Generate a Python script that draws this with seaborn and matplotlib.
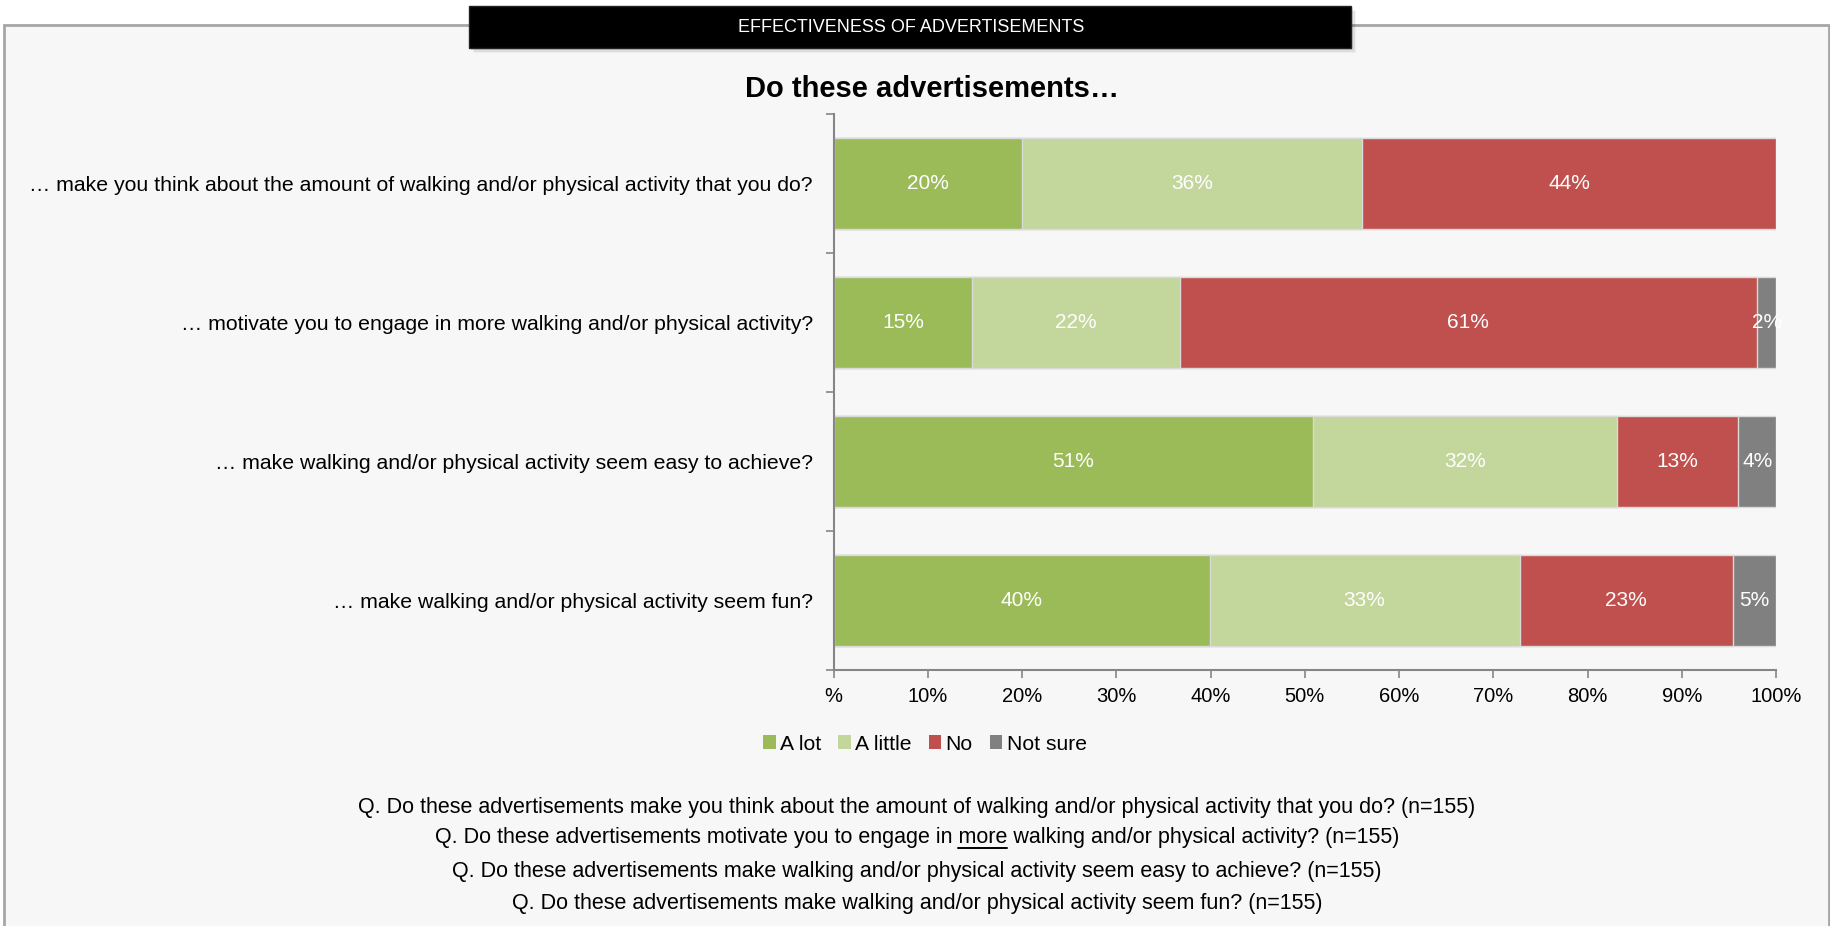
import matplotlib
matplotlib.use("Agg")
import matplotlib.pyplot as plt
from matplotlib import font_manager
from matplotlib.patches import Rectangle, Patch
import numpy as np
import pandas as pd
import seaborn as sns

# ---- data -------------------------------------------------------------
questions = [
    "\u2026 make you think about the amount of walking and/or physical activity that you do?",
    "\u2026 motivate you to engage in more walking and/or physical activity?",
    "\u2026 make walking and/or physical activity seem easy to achieve?",
    "\u2026 make walking and/or physical activity seem fun?",
]
series_names = ["A lot", "A little", "No", "Not sure"]
a_lot = [20.0, 14.7, 50.9, 39.9]
a_little = [36.1, 22.0, 32.2, 32.9]
no = [43.9, 61.3, 12.9, 22.6]
not_sure = [0.0, 2.0, 4.0, 4.6]
x_ticks = [0, 10, 20, 30, 40, 50, 60, 70, 80, 90, 100]
x_tick_labels = ["%", "10%", "20%", "30%", "40%", "50%", "60%", "70%", "80%", "90%", "100%"]
footnotes = [
    "Q. Do these advertisements make you think about the amount of walking and/or physical activity that you do? (n=155)",
    "Q. Do these advertisements motivate you to engage in more walking and/or physical activity? (n=155)",
    "Q. Do these advertisements make walking and/or physical activity seem easy to achieve? (n=155)",
    "Q. Do these advertisements make walking and/or physical activity seem fun? (n=155)",
]
colors = ["#9BBB59", "#C3D69B", "#C0504D", "#808080"]

# ---- fonts ------------------------------------------------------------
sns.set_theme(style="white")
installed = {f.name for f in font_manager.fontManager.ttflist}
REG = "Liberation Sans" if "Liberation Sans" in installed else "DejaVu Sans"
NARROW = "Liberation Sans Narrow" if "Liberation Sans Narrow" in installed else REG
plt.rcParams["font.family"] = [REG, "DejaVu Sans"]
plt.rcParams["text.color"] = "black"
plt.rcParams["xtick.color"] = "black"
plt.rcParams["ytick.color"] = "black"

W, H = 1831, 926
fig = plt.figure(figsize=(W / 100, H / 100), dpi=100)
fig.patch.set_facecolor("white")

# panel behind the chart
panel = Rectangle((4 / W, -0.05), (W - 6) / W, 1.05 - 25 / H,
                  transform=fig.transFigure, facecolor="#F7F7F7",
                  edgecolor="#A6A6A6", linewidth=2, zorder=-5)
fig.patches.append(panel)

# header banner with soft shadow
bx, by, bw, bh = 469 / W, 1 - 48 / H, 882 / W, 42 / H
for i, a in enumerate([0.10, 0.08, 0.06, 0.04]):
    off = (i + 1) * 1.2
    fig.patches.append(Rectangle((bx + off / W, by - off / H), bw, bh,
                                 transform=fig.transFigure, facecolor="black",
                                 edgecolor="none", alpha=a, zorder=-4))
fig.patches.append(Rectangle((bx, by), bw, bh, transform=fig.transFigure,
                             facecolor="black", edgecolor="#222222",
                             linewidth=1, zorder=-3))
fig.text(911 / W, 1 - 27 / H, "EFFECTIVENESS OF ADVERTISEMENTS", color="white",
         ha="center", va="center", fontsize=13, family=[NARROW, "DejaVu Sans"],
         zorder=3)

fig.text(932 / W, 1 - 89 / H, "Do these advertisements\u2026", ha="center",
         va="center", fontsize=21, fontweight="bold",
         family=[NARROW, "DejaVu Sans"], color="black")

# ---- stacked bars -----------------------------------------------------
ax = fig.add_axes([833.7 / W, 1 - 670 / H, (1776 - 833.7) / W, (670 - 114) / H])
ax.set_zorder(2)
ax.set_facecolor("#F7F7F7")

df = pd.DataFrame({"question": questions, "A lot": a_lot, "A little": a_little,
                   "No": no, "Not sure": not_sure})
cum = df[series_names].cumsum(axis=1)

for name, col in reversed(list(zip(series_names, colors))):
    sns.barplot(data=cum.assign(question=questions), x=name, y="question",
                orient="h", color=col, saturation=1, width=0.66,
                edgecolor="#DADADA", linewidth=1, ax=ax)

for i in range(len(questions)):
    start = 0.0
    for name in series_names:
        v = df.loc[i, name]
        if v > 0:
            ax.text(start + v / 2, i, f"{v:.0f}%", ha="center", va="center",
                    color="white", fontsize=15)
        start += v

ax.set_xlim(0, 100)
ax.set_ylim(3.5, -0.5)
ax.set_xlabel("")
ax.set_ylabel("")
ax.set_xticks(x_ticks)
ax.set_xticklabels(x_tick_labels, family=[NARROW, "DejaVu Sans"], fontsize=14.5)
ax.set_yticks(range(len(questions)))
ax.set_yticklabels(questions, fontsize=15.3)
ax.set_yticks([-0.5, 0.5, 1.5, 2.5, 3.5], minor=True)
ax.tick_params(axis="y", which="major", length=0, pad=15)
ax.tick_params(axis="y", which="minor", length=6, width=1.2, color="#868686",
               direction="out", left=True)
ax.tick_params(axis="x", which="major", length=6, width=1.2, color="#868686",
               direction="out", bottom=True, pad=6)
for s in ["top", "right"]:
    ax.spines[s].set_visible(False)
for s in ["left", "bottom"]:
    ax.spines[s].set_color("#868686")
    ax.spines[s].set_linewidth(1.5)

# ---- legend -----------------------------------------------------------
handles = [Patch(facecolor=c, edgecolor="none") for c in colors]
fig.legend(handles, series_names, loc="center", bbox_to_anchor=(925 / W, 1 - 744 / H),
           ncol=4, frameon=False, fontsize=15.2, handlelength=0.6, handleheight=0.6,
           handletextpad=0.2, columnspacing=0.8)

# ---- question footnotes -----------------------------------------------
ys = [807, 838, 871, 903]
fkw = dict(ha="center", va="center", fontsize=15.5, family=[NARROW, "DejaVu Sans"],
           color="black")
texts = [fig.text(917 / W, 1 - y / H, t, **fkw) for t, y in zip(footnotes, ys)]

# underline the word "more" in the second line
fig.canvas.draw()
r = fig.canvas.get_renderer()
line = texts[1]
full_bb = line.get_window_extent(r)
prefix = footnotes[1].split("more")[0]
tmp = fig.text(0, 0, prefix, **{**fkw, "ha": "left"})
pw = tmp.get_window_extent(r).width
tmp.remove()
tmp = fig.text(0, 0, "more", **{**fkw, "ha": "left"})
mw = tmp.get_window_extent(r).width
tmp.remove()
x0 = full_bb.x0 + pw
yline = full_bb.y0 + 1
fig.add_artist(plt.Line2D([x0 / W, (x0 + mw) / W], [yline / H, yline / H],
                          transform=fig.transFigure, color="black", linewidth=1.4))

fig.savefig("out.png", dpi=100, facecolor=fig.get_facecolor())
